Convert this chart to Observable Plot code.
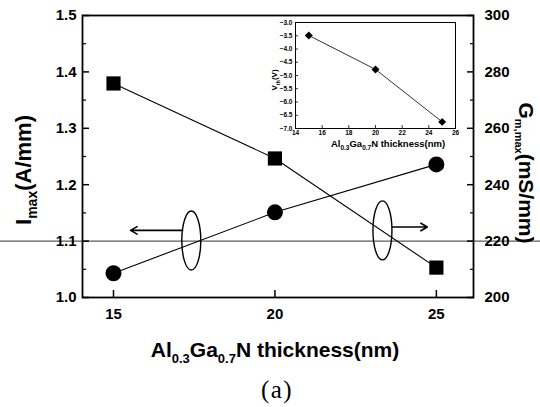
<!DOCTYPE html>
<html><head><meta charset="utf-8">
<script src="https://cdn.jsdelivr.net/npm/d3@7"></script>
<script src="https://cdn.jsdelivr.net/npm/@observablehq/plot@0.6"></script>
<style>
body{margin:0;background:#fff;}
#wrap{position:relative;width:540px;height:407px;overflow:hidden;}
#inset{position:absolute;left:262px;top:14px;}
svg{overflow:visible;}
</style></head><body><div id="wrap"><div id="main"></div><div id="inset"></div></div>
<script>
// ---- data ----
const thickness = [15, 20, 25];                 // Al0.3Ga0.7N thickness (nm)
const imax = [1.043, 1.151, 1.236];            // I_max (A/mm), left axis, circles
const gmmax = [275.9, 249.3, 210.6];           // G_m,max (mS/mm), right axis, squares
const insetThickness = [15, 20, 25];
const vth = [-3.49, -4.77, -6.75];              // V_th (V), inset
const leftTicks = [1.0, 1.1, 1.2, 1.3, 1.4, 1.5];
const leftMinor = [1.05, 1.15, 1.25, 1.35, 1.45];
const rightTicks = [200, 220, 240, 260, 280, 300];
const rightMinor = [210, 230, 250, 270, 290];
const xTicks = [15, 20, 25];
const insetXTicks = [14, 16, 18, 20, 22, 24, 26];
const insetYTicks = [-3.0, -3.5, -4.0, -4.5, -5.0, -5.5, -6.0, -6.5, -7.0];
// annotation (ellipses + arrows pointing to each series' axis)
const ellipseX = [17.41, 23.33];
const ellipseY = [1.101, 1.119];
const arrowFromX = [17.14, 23.64];
const arrowToX = [15.53, 24.72];
const arrowY = [1.119, 1.125];
const scanLineY = [1.1];

// right axis (mS/mm) is aligned with left axis: 200<->1.0, 300<->1.5
const g2i = g => 1 + (g - 200) / 200;
const i2g = v => Math.round(200 + (v - 1) * 200);

const circles = thickness.map((t, i) => ({t, v: imax[i]}));
const squares = thickness.map((t, i) => ({t, v: g2i(gmmax[i])}));
const ellipses = ellipseX.map((x, i) => ({x, y: ellipseY[i]}));
const arrows = arrowFromX.map((x1, i) => ({x1, x2: arrowToX[i], y: arrowY[i]}));

const ellipseSymbol = (rx, ry) => ({
  draw(ctx) {
    const k = 0.5523;
    ctx.moveTo(rx, 0);
    ctx.bezierCurveTo(rx, k * ry, k * rx, ry, 0, ry);
    ctx.bezierCurveTo(-k * rx, ry, -rx, k * ry, -rx, 0);
    ctx.bezierCurveTo(-rx, -k * ry, -k * rx, -ry, 0, -ry);
    ctx.bezierCurveTo(k * rx, -ry, rx, -k * ry, rx, 0);
    ctx.closePath();
  }
});

const font = "'Liberation Sans', Arial, Helvetica, sans-serif";

const main = Plot.plot({
  width: 540, height: 407,
  marginLeft: 82, marginRight: 67, marginTop: 15, marginBottom: 110,
  x: {domain: [14.04, 26.15]},
  y: {domain: [1.0, 1.5]},
  style: {fontFamily: font, fontWeight: "bold", fontSize: "15px", color: "#000", background: "transparent", overflow: "visible"},
  marks: [
    Plot.ruleY(scanLineY.map(y => ({y, x1: 11.3, x2: 29.5})), {y: "y", x1: "x1", x2: "x2", stroke: "#333", strokeWidth: 1, clip: false}),
    Plot.frame({stroke: "#000", strokeWidth: 1.8}),
    Plot.axisY(leftTicks, {anchor: "left", tickSize: -7, tickPadding: 13, strokeWidth: 1.5, tickFormat: d3.format(".1f"), label: null}),
    Plot.axisY(leftMinor, {anchor: "left", tickSize: -4, strokeWidth: 1.2, tickFormat: () => "", label: null}),
    Plot.axisY(rightTicks.map(g2i), {anchor: "right", tickSize: -7, tickPadding: 18, strokeWidth: 1.5, tickFormat: i2g, label: null}),
    Plot.axisY(rightMinor.map(g2i), {anchor: "right", tickSize: -4, strokeWidth: 1.2, tickFormat: () => "", label: null}),
    Plot.axisX(xTicks, {anchor: "bottom", tickSize: -7, tickPadding: 18, strokeWidth: 1.5, tickFormat: d => String(d), label: null}),
    Plot.line(circles, {x: "t", y: "v", stroke: "#000", strokeWidth: 1.1}),
    Plot.line(squares, {x: "t", y: "v", stroke: "#000", strokeWidth: 1.1}),
    Plot.dot(circles, {x: "t", y: "v", r: 8, fill: "#000", stroke: "none"}),
    Plot.dot(squares, {x: "t", y: "v", r: 8, symbol: "square", fill: "#000", stroke: "none"}),
    Plot.dot(ellipses, {x: "x", y: "y", r: 10, symbol: ellipseSymbol(9.5, 29.5), fill: "none", stroke: "#000", strokeWidth: 1.4}),
    Plot.arrow(arrows, {x1: "x1", x2: "x2", y1: "y", y2: "y", stroke: "#000", strokeWidth: 1.6, headLength: 7})
  ]
});
document.getElementById("main").appendChild(main);

// axis titles with subscripts
const s = d3.select(main);
function addText(g, parts, size, subSize, shift) {
  const t = g.append("text").attr("font-family", font).attr("font-weight", "bold").attr("font-size", size).attr("fill", "#000");
  let cur = 0;
  for (const [str, sub] of parts) {
    const want = sub ? shift : 0;
    t.append("tspan").attr("dy", want - cur).attr("font-size", sub ? subSize : size).text(str);
    cur = want;
  }
  return t;
}
addText(s.append("g").attr("transform", "translate(275,357)"),
  [["Al"], ["0.3", 1], ["Ga"], ["0.7", 1], ["N thickness(nm)"]], 21, 13, 6).attr("text-anchor", "middle");
addText(s.append("g").attr("transform", "translate(31,170) rotate(-90)"),
  [["I"], ["max", 1], ["(A/mm)"]], 22, 14, 6).attr("text-anchor", "middle");
addText(s.append("g").attr("transform", "translate(519,173) rotate(90)"),
  [["G"], ["m,max", 1], ["(mS/mm)"]], 21, 11, 4).attr("text-anchor", "middle");
s.append("text").attr("x", 277).attr("y", 398).attr("text-anchor", "middle")
  .attr("font-family", "'Liberation Serif', 'Times New Roman', serif").attr("font-size", 25)
  .attr("font-weight", "normal").attr("letter-spacing", 1.5).attr("fill", "#000").text("(a)");

// ---- inset ----
const insetData = insetThickness.map((t, i) => ({t, v: vth[i]}));
const inset = Plot.plot({
  width: 210, height: 140,
  marginLeft: 33, marginTop: 8, marginRight: 17, marginBottom: 26,
  x: {domain: [14, 26]},
  y: {domain: [-7, -3]},
  style: {fontFamily: font, fontWeight: "bold", fontSize: "6.5px", color: "#000", background: "transparent", overflow: "visible"},
  marks: [
    Plot.frame({stroke: "#000", strokeWidth: 1}),
    Plot.axisY(insetYTicks, {anchor: "left", tickSize: -3, tickPadding: 6, strokeWidth: 0.8, tickFormat: d3.format(".1f"), label: null}),
    Plot.axisX(insetXTicks, {anchor: "bottom", tickSize: -3, tickPadding: 5, strokeWidth: 0.8, tickFormat: d => String(d), label: null}),
    Plot.line(insetData, {x: "t", y: "v", stroke: "#000", strokeWidth: 0.8}),
    Plot.dot(insetData, {x: "t", y: "v", r: 3.6, symbol: "diamond2", fill: "#000", stroke: "none"})
  ]
});
document.getElementById("inset").appendChild(inset);
const si = d3.select(inset);
addText(si.append("g").attr("transform", "translate(126,133)"),
  [["Al"], ["0.3", 1], ["Ga"], ["0.7", 1], ["N thickness(nm)"]], 9.5, 6.5, 3).attr("text-anchor", "middle");
addText(si.append("g").attr("transform", "translate(15,66) rotate(-90)"),
  [["V"], ["th", 1], ["(V)"]], 8, 5.5, 2.5).attr("text-anchor", "middle");
</script>
</body></html>
